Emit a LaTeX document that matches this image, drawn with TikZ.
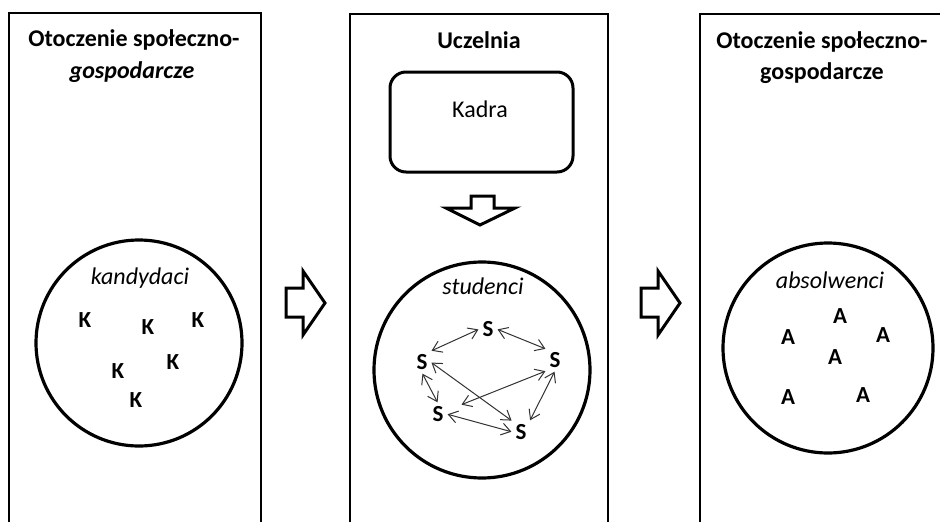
\documentclass[tikz,border=0pt]{standalone}
\usepackage{fontspec}
\setmainfont{Carlito}
\usetikzlibrary{arrows.meta}
\begin{document}
\begin{tikzpicture}[x=1pt,y=-1pt,
  panel/.style={line width=2.3pt},
  ring/.style={draw, circle, line width=3.2pt, inner sep=0pt},
  bigtxt/.style={font=\fontsize{24}{29}\selectfont, anchor=base, inner sep=0pt},
  ttl/.style={bigtxt, font=\fontsize{24}{29}\selectfont\bfseries},
  itl/.style={bigtxt, font=\fontsize{24}{29}\selectfont\itshape},
  bitl/.style={bigtxt, font=\fontsize{24}{29}\selectfont\bfseries\itshape},
  letter/.style={font=\fontsize{23}{27}\selectfont\bfseries, inner sep=3pt},
  blockarrow/.style={line width=3pt, fill=white, line join=miter},
  dbl/.style={{Straight Barb[length=9pt,width=12pt]}-{Straight Barb[length=9pt,width=12pt]}, line width=1pt, draw=black!80, shorten <=1pt, shorten >=1pt}
]
\useasboundingbox (0,0) rectangle (940,522);
\clip (0,0) rectangle (940,522);
\fill[white] (0,0) rectangle (940,522);

% panels
\draw[panel] (9,530) -- (9,13) -- (261,13) -- (261,530);
\draw[panel] (350,530) -- (350,14) -- (608,14) -- (608,530);
\draw[panel] (700,530) -- (700,14) -- (950,14);

% titles
\node[ttl] (t1a) at (134,46) {Otoczenie społeczno-};
\node[bitl] (t1b) at (132,78) {gospodarcze};
\node[ttl] (t2) at (479,48) {Uczelnia};
\node[ttl] (t3a) at (822,48) {Otoczenie społeczno-};
\node[ttl] (t3b) at (822,79) {gospodarcze};

% Kadra box
\draw[line width=3pt, rounded corners=16pt] (390,72) rectangle (573,172);
\node[bigtxt] (kadra) at (480,117) {Kadra};

% down block arrow
\draw[blockarrow] (471,196) -- (494,196) -- (494,208) -- (515,208) -- (480,225) -- (446,208) -- (471,208) -- cycle;

% right block arrows
\draw[blockarrow] (286,288) -- (303,288) -- (303,271) -- (325,303) -- (303,335) -- (303,317) -- (286,317) -- cycle;
\draw[blockarrow] (641,288) -- (658,288) -- (658,271) -- (680,303) -- (658,335) -- (658,317) -- (641,317) -- cycle;

% circles
\node[ring, minimum size=206pt] (c1) at (139,343) {};
\node[ring, minimum size=216pt] (c2) at (482,370) {};
\node[ring, minimum size=210pt] (c3) at (828,348) {};

\node[itl] (lk) at (140,284) {kandydaci};
\node[itl] (ls) at (483,294) {studenci};
\node[itl] (la) at (830,288) {absolwenci};

% K
\node[letter] (k1) at (85,320) {K};
\node[letter] (k2) at (148,327) {K};
\node[letter] (k3) at (198,320) {K};
\node[letter] (k4) at (173,362) {K};
\node[letter] (k5) at (118,371) {K};
\node[letter] (k6) at (136,400) {K};

% S
\node[letter] (sT) at (488,329) {S};
\node[letter] (sL) at (422,362) {S};
\node[letter] (sR) at (555,360) {S};
\node[letter] (sB) at (438,414) {S};
\node[letter] (sC) at (521,432) {S};

\draw[dbl] (sL.north east) -- (sT.west);
\draw[dbl] (sT.east) -- (sR.north west);
\draw[dbl] (sL.south) -- (sB.north);
\draw[dbl] (sL.east) -- (sC.north west);
\draw[dbl, shorten >=16pt] (sR.south west) -- (sB);
\draw[dbl] (sR.south) -- (sC.north east);
\draw[dbl] (sB.east) -- (sC.west);

% A
\node[letter] (a1) at (840,316) {A};
\node[letter] (a2) at (788,337) {A};
\node[letter] (a3) at (883,335) {A};
\node[letter] (a4) at (835,357) {A};
\node[letter] (a5) at (788,397) {A};
\node[letter] (a6) at (863,395) {A};
\end{tikzpicture}
\end{document}
